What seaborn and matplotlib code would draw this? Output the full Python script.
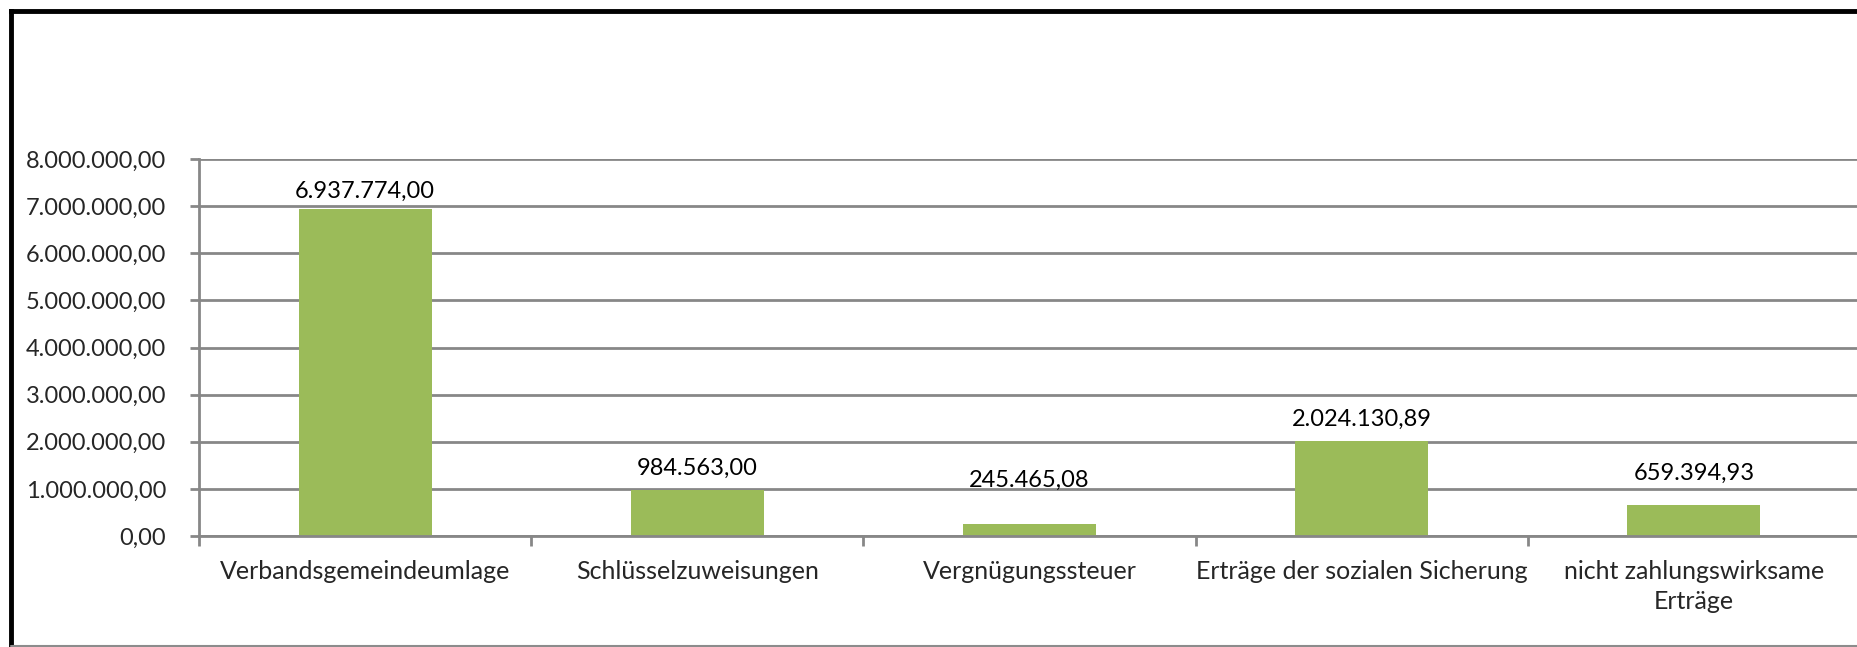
import matplotlib
matplotlib.use("Agg")
import matplotlib.pyplot as plt
import seaborn as sns
import pandas as pd
from matplotlib.ticker import FuncFormatter, MultipleLocator, FixedLocator
from matplotlib.lines import Line2D

categories = ["Verbandsgemeindeumlage", "Schlüsselzuweisungen", "Vergnügungssteuer",
              "Erträge der sozialen Sicherung", "nicht zahlungswirksame\nErträge"]
values = [6937774.00, 984563.00, 245465.08, 2024130.89, 659394.93]

# label baseline offset above bar top (points) - style
label_offsets = [7.9, 10.8, 27.4, 10.4, 18.0]

def de_fmt(v, pos=None):
    s = f"{v:,.2f}"
    return s.replace(",", "X").replace(".", ",").replace("X", ".")

sns.set_theme(style="white")
plt.rcParams["font.family"] = ["Lato", "DejaVu Sans"]

W, H = 1858, 647
fig = plt.figure(figsize=(W / 100, H / 100), dpi=100)
ax = fig.add_axes([199 / W, 1 - 536 / H, (1860 - 199) / W, (536 - 159) / H])

df = pd.DataFrame({"cat": categories, "val": values})
sns.barplot(data=df, x="cat", y="val", color="#9BBB59", width=0.4, ax=ax,
            saturation=1, edgecolor="none")

fs = 17
grid_c = "#878787"
ax.set_ylim(0, 8000000)
ax.set_xlim(-0.5, len(categories) - 0.5)
ax.yaxis.set_major_locator(MultipleLocator(1000000))
ax.yaxis.set_major_formatter(FuncFormatter(de_fmt))
ax.grid(axis="y", color=grid_c, linewidth=2)
ax.set_axisbelow(True)
for s in ["top", "right"]:
    ax.spines[s].set_visible(False)
for s in ["left", "bottom"]:
    ax.spines[s].set_color(grid_c)
    ax.spines[s].set_linewidth(2)

ax.tick_params(axis="y", which="major", length=6.5, width=2, color=grid_c,
               labelsize=fs, pad=17, left=True)
ax.tick_params(axis="x", which="major", length=0, labelsize=18, pad=17)
ax.xaxis.set_minor_locator(FixedLocator([i - 0.5 for i in range(len(categories) + 1)]))
ax.tick_params(axis="x", which="minor", length=7, width=2, color=grid_c, bottom=True)
ax.set_xlabel("")
ax.set_ylabel("")
for lbl in ax.get_xticklabels():
    lbl.set_linespacing(1.4)

bars = ax.containers[0]
for patch, v, off in zip(bars.patches, values, label_offsets):
    ax.annotate(de_fmt(v), (patch.get_x() + patch.get_width() / 2, patch.get_height()),
                xytext=(0, off), textcoords="offset points", ha="center", va="baseline",
                fontsize=fs, color="black")

# outer frame
fig.add_artist(Line2D([11 / W, 11 / W], [0, 1 - 11 / H], transform=fig.transFigure,
                      color="black", linewidth=3.5, solid_capstyle="projecting"))
fig.add_artist(Line2D([11 / W, 1], [1 - 11 / H, 1 - 11 / H], transform=fig.transFigure,
                      color="black", linewidth=3.5, solid_capstyle="projecting"))
fig.add_artist(Line2D([11 / W, 1], [1.5 / H, 1.5 / H], transform=fig.transFigure,
                      color="#8c8c8c", linewidth=1.5))

fig.savefig("out.png", dpi=100)
